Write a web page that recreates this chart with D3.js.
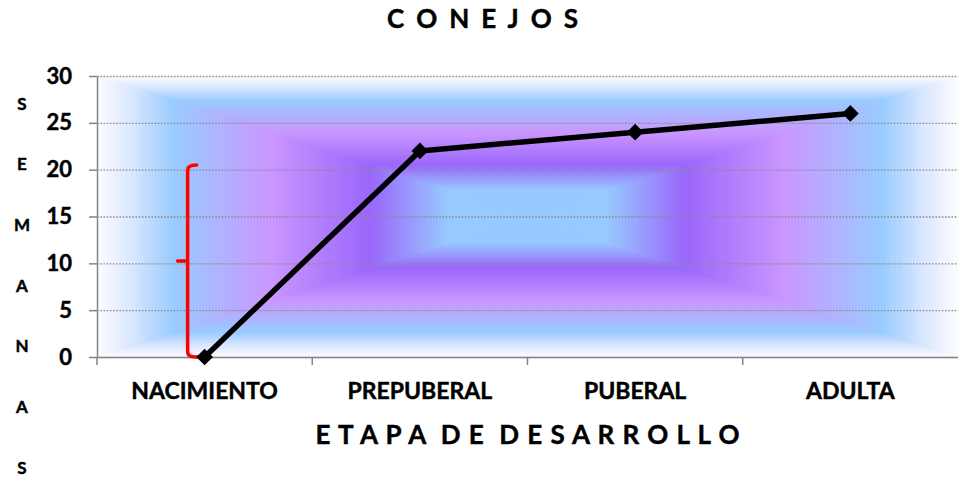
<!DOCTYPE html>
<html>
<head>
<meta charset="utf-8">
<script src="https://cdn.jsdelivr.net/npm/d3@7"></script>
<style>
  html, body { margin: 0; padding: 0; background: #ffffff; }
  svg { display: block; }
  text { font-family: Lato, "Open Sans", sans-serif; font-weight: bold; fill: #000; stroke: #000; stroke-width: 0.45px; }
</style>
</head>
<body>
<svg id="chart" width="958" height="480"></svg>
<script>
// Growth stages (x categories) and weeks reached at each stage
const categories = ["NACIMIENTO", "PREPUBERAL", "PUBERAL", "ADULTA"];
const weeks = [0, 22, 24, 26];
const yTicks = [0, 5, 10, 15, 20, 25, 30];
const chartTitle = "C O N E J O S";
const xTitle = "E T A P A  D E  D E S A R R O L L O";
const yTitleLetters = ["S", "E", "M", "A", "N", "A", "S"];

const W = 958, H = 480;
const plot = { left: 97, right: 958, top: 76, bottom: 357 };

const svg = d3.select("#chart");

const x = d3.scaleBand().domain(categories).range([plot.left, plot.right]);
const y = d3.scaleLinear().domain([0, 30]).range([plot.bottom, plot.top]);
const cx = c => x(c) + x.bandwidth() / 2;

// ---- Rectangular ("from centre") gradient fill of the plot area ----
// t = 0 at the centre, t = 1 at the plot edge
const fillColor = d3.scaleLinear()
  .domain([0, 0.19, 0.37, 0.6, 0.83, 0.92, 1])
  .range(["#97caff", "#97caff", "#9a66fb", "#ca96ff", "#99ccff", "#d7e5ff", "#fbfbff"])
  .interpolate(d3.interpolateRgb);

const midX = (plot.left + plot.right) / 2, midY = (plot.top + plot.bottom) / 2;
const halfW = (plot.right - plot.left) / 2, halfH = (plot.bottom - plot.top) / 2;
const steps = d3.range(90, 0, -1).map(i => i / 90);
svg.append("g").attr("class", "plot-fill")
  .selectAll("rect").data(steps).join("rect")
  .attr("x", t => midX - t * halfW)
  .attr("y", t => midY - t * halfH)
  .attr("width", t => 2 * t * halfW)
  .attr("height", t => 2 * t * halfH)
  .attr("fill", t => fillColor(t));

// ---- Dotted horizontal gridlines ----
const grid = svg.append("g")
  .attr("transform", `translate(${plot.left},0)`)
  .call(d3.axisLeft(y).tickValues(yTicks).tickSize(-(plot.right - plot.left)).tickFormat(""));
grid.select(".domain").remove();
grid.selectAll("line")
  .attr("stroke", "#8a8a8a")
  .attr("stroke-width", 1.3)
  .attr("stroke-dasharray", "1.6,1.6");

// ---- Y axis ----
const yAxis = svg.append("g")
  .attr("transform", `translate(${plot.left},0)`)
  .call(d3.axisLeft(y).tickValues(yTicks).tickSize(8).tickSizeOuter(0).tickPadding(17));
yAxis.select(".domain").attr("stroke", "#868686").attr("stroke-width", 1.5);
yAxis.selectAll(".tick line").attr("stroke", "#868686").attr("stroke-width", 1.5);
yAxis.selectAll(".tick text")
  .attr("font-size", 22).attr("font-family", "Lato, 'Open Sans', sans-serif")
  .attr("font-weight", "bold").attr("fill", "#000");

// ---- X axis (labels centred on the bands, ticks on band boundaries) ----
const xAxis = svg.append("g")
  .attr("transform", `translate(0,${plot.bottom})`)
  .call(d3.axisBottom(x).tickSize(0).tickSizeOuter(0).tickPadding(26));
xAxis.select(".domain").attr("stroke", "#868686").attr("stroke-width", 1.5);
xAxis.selectAll(".tick text")
  .attr("font-size", 23).attr("font-family", "Lato, 'Open Sans', sans-serif")
  .attr("font-weight", "bold").attr("fill", "#000");
xAxis.selectAll("line.boundary")
  .data(categories).join("line").attr("class", "boundary")
  .attr("x1", c => x(c)).attr("x2", c => x(c))
  .attr("y1", 0).attr("y2", 8)
  .attr("stroke", "#868686").attr("stroke-width", 1.5);

// ---- Red brace spanning 0–20.5 weeks beside the first stage ----
const bx = cx(categories[0]);
const yTop = y(20.5), yMid = y(10.25), yBot = y(0);
const brace = d3.path();
brace.moveTo(bx - 8, yTop);
brace.quadraticCurveTo(bx - 17, yTop, bx - 17, yTop + 5);
brace.lineTo(bx - 17, yBot - 5);
brace.quadraticCurveTo(bx - 17, yBot, bx - 9, yBot);
brace.lineTo(bx - 2, yBot);
brace.moveTo(bx - 27, yMid);
brace.lineTo(bx - 17, yMid);
svg.append("path")
  .attr("d", brace.toString())
  .attr("fill", "none")
  .attr("stroke", "#ff0000")
  .attr("stroke-width", 3.5)
  .attr("stroke-linecap", "round");

// ---- Data line and diamond markers ----
const pts = categories.map((c, i) => ({ c, v: weeks[i] }));
svg.append("path")
  .datum(pts)
  .attr("d", d3.line().x(d => cx(d.c)).y(d => y(d.v)))
  .attr("fill", "none")
  .attr("stroke", "#000")
  .attr("stroke-width", 5.5)
  .attr("stroke-linejoin", "round");

svg.append("g").selectAll("path").data(pts).join("path")
  .attr("d", d3.symbol(d3.symbolSquare, 140))
  .attr("transform", d => `translate(${cx(d.c)},${y(d.v)}) rotate(45)`)
  .attr("fill", "#000");

// ---- Titles ----
svg.append("text")
  .attr("x", 482.5).attr("y", 28)
  .attr("text-anchor", "middle")
  .attr("font-size", 26)
  .attr("textLength", 191).attr("lengthAdjust", "spacing")
  .text(chartTitle);

svg.append("text")
  .attr("x", (plot.left + plot.right) / 2).attr("y", 444)
  .attr("text-anchor", "middle")
  .attr("font-size", 26)
  .style("white-space", "pre")
  .attr("textLength", 424).attr("lengthAdjust", "spacing")
  .text(xTitle);

svg.append("g").selectAll("text").data(yTitleLetters).join("text")
  .attr("x", 22)
  .attr("y", (d, i) => 103 + i * 60.7)
  .attr("text-anchor", "middle")
  .attr("dominant-baseline", "central")
  .attr("font-size", 17)
  .text(d => d);
</script>
</body>
</html>
